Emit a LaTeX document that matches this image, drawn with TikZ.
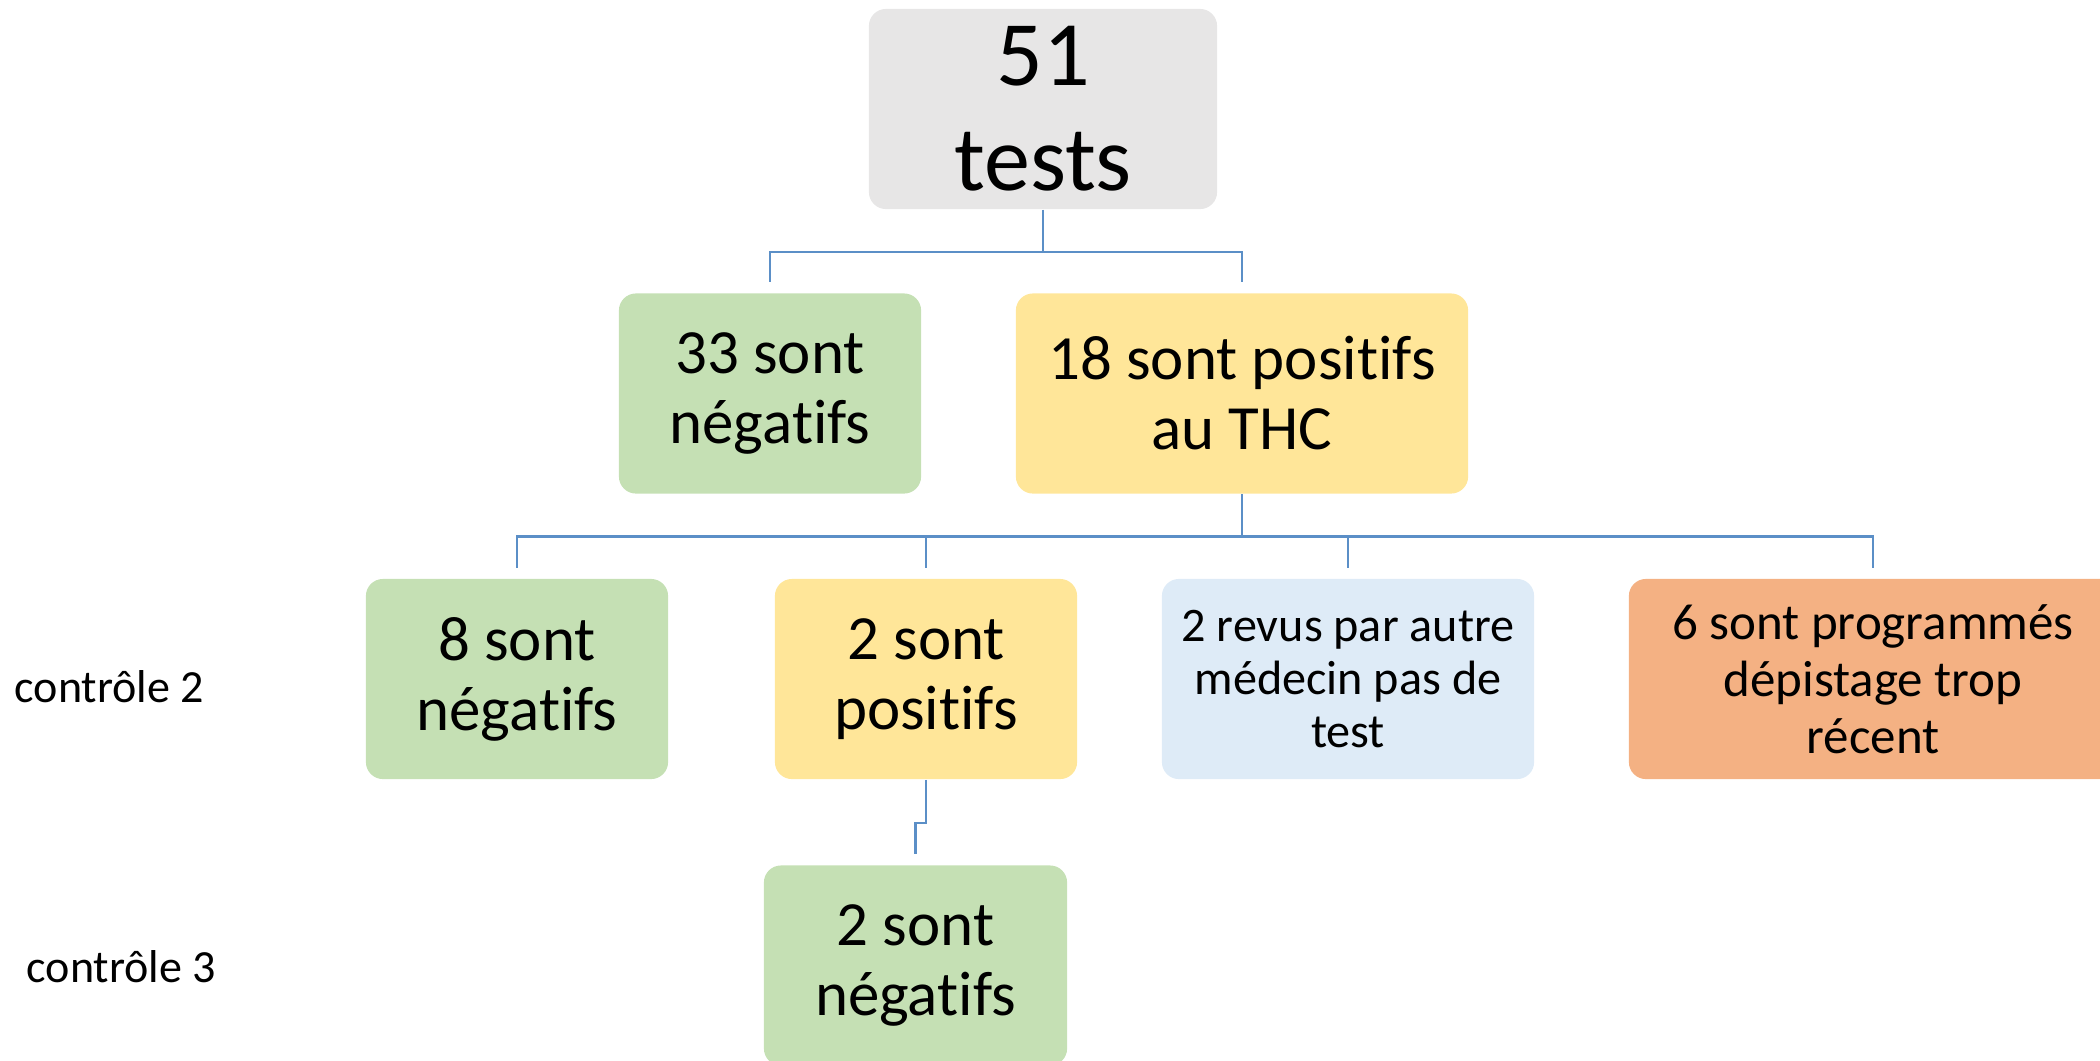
\documentclass[tikz,border=0pt]{standalone}
\usepackage{fontspec}
\setmainfont{Carlito}[Ligatures={NoCommon}]
\newcommand{\nolig}{\kern0pt}

\definecolor{boxgray}{HTML}{E7E6E6}
\definecolor{boxgreen}{HTML}{C5E0B4}
\definecolor{boxyellow}{HTML}{FFE699}
\definecolor{boxblue}{HTML}{DEEBF7}
\definecolor{boxorange}{HTML}{F4B183}
\definecolor{linkblue}{HTML}{5B8FC7}

\tikzset{
  box/.style={rounded corners=0.17cm, inner sep=0pt, align=center,
    minimum height=2cm, font=\fontsize{17.9}{19.9}\selectfont},
  link/.style={draw=linkblue, line width=0.7pt, shorten >=3pt}
}

\begin{document}
\begin{tikzpicture}[x=0.01cm,y=-0.01cm]
      \useasboundingbox (0,0) rectangle (2100,1060);
      \clip (0,0) rectangle (2100,1060);

      \node[box,fill=boxgray,minimum width=3.48cm,
        font=\fontsize{26.2}{29.9}\selectfont] (tests) at (1043,109) {51\\tests};

      \node[box,fill=boxgreen,minimum width=3.02cm] (neg-33) at (770,393.5) {33 sont\\négat\nolig ifs};
      \node[box,fill=boxyellow,minimum width=4.52cm] (pos-18) at (1242,393.5) {18 sont posit\nolig ifs\\au THC};

      \node[box,fill=boxgreen,minimum width=3.02cm] (neg-8) at (517,679) {8 sont\\négat\nolig ifs};
      \node[box,fill=boxyellow,minimum width=3.02cm] (pos-2) at (926,679) {2 sont\\posit\nolig ifs};
      \node[box,fill=boxblue,minimum width=3.72cm,
        font=\fontsize{13.7}{15.1}\selectfont] (revus) at (1348,679) {2 revus par autre\\médecin pas de\\test};
      \node[box,fill=boxorange,minimum width=4.88cm,
        font=\fontsize{14.5}{16.2}\selectfont] (prog) at (1873,679) {6 sont programmés\\dépistage trop\\récent};

      \node[box,fill=boxgreen,minimum width=3.03cm] (neg-2) at (915.5,965.5) {2 sont\\négat\nolig ifs};

      \node[anchor=base west,inner sep=0pt,font=\fontsize{13.1}{15}\selectfont] (ctrl-2) at (14,702) {contrôle 2};
      \node[anchor=base west,inner sep=0pt,font=\fontsize{13.1}{15}\selectfont] (ctrl-3) at (26,982) {contrôle 3};

      \draw[link] (tests.south) -- ++(0,42) -| (neg-33.north);
      \draw[link] (tests.south) -- ++(0,42) -| (pos-18.north);

      \draw[link] (pos-18.south) -- ++(0,42) -| (neg-8.north);
      \draw[link] (pos-18.south) -- ++(0,42) -| (pos-2.north);
      \draw[link] (pos-18.south) -- ++(0,42) -| (revus.north);
      \draw[link] (pos-18.south) -- ++(0,42) -| (prog.north);

      \draw[link] (pos-2.south) -- ++(0,43) -| (neg-2.north);
    \end{tikzpicture}
\end{document}
